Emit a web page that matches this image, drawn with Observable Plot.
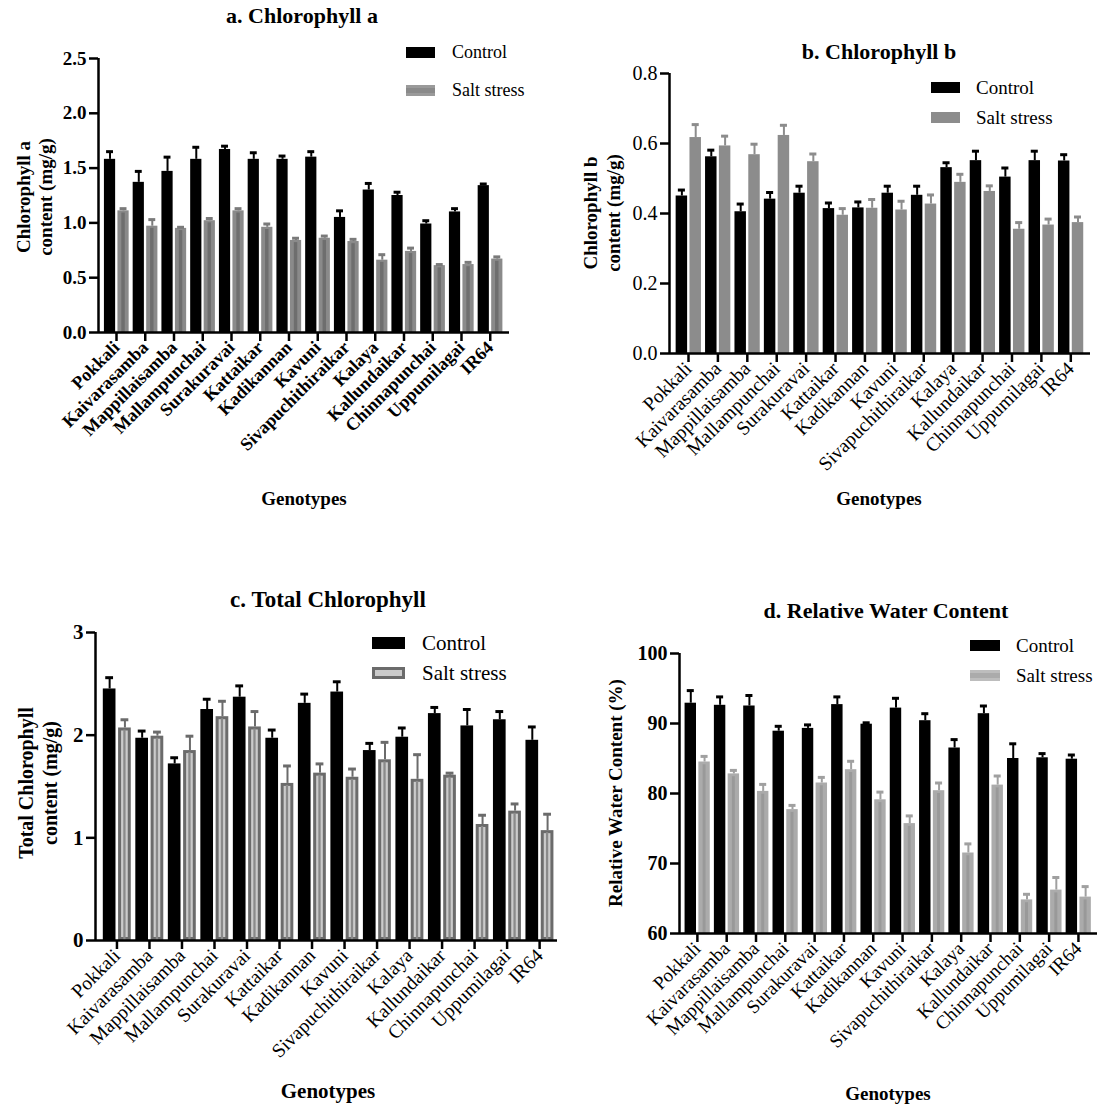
<!DOCTYPE html>
<html>
<head>
<meta charset="utf-8">
<script src="https://cdn.jsdelivr.net/npm/d3@7"></script>
<script src="https://cdn.jsdelivr.net/npm/@observablehq/plot@0.6"></script>
<style>
  html, body { margin: 0; padding: 0; background: #fff; }
  body { font-family: "Liberation Serif", "Times New Roman", serif; color: #000; }
  #root { position: relative; width: 1100px; height: 1108px; overflow: hidden; background: #fff; }
  .abs { position: absolute; white-space: nowrap; line-height: 1; }
  .ctr { transform: translate(-50%, -50%); }
  .lft { transform: translate(0, -50%); }
  .bold { font-weight: bold; }
  .ylab { transform: translate(-50%, -50%) rotate(-90deg); text-align: center; font-weight: bold; }
  .sw { position: absolute; box-sizing: border-box; }
  .panel { position: absolute; }
  .boldx g[aria-label="x-axis tick label"] { font-weight: bold; }
  .boldy g[aria-label="y-axis tick label"] { font-weight: bold; }
</style>
</head>
<body>
<div id="root"></div>
<script>
// ---------- data ----------
const genotypes = ["Pokkali","Kaivarasamba","Mappillaisamba","Mallampunchai","Surakuravai","Kattaikar","Kadikannan","Kavuni","Sivapuchithiraikar","Kalaya","Kallundaikar","Chinnapunchai","Uppumilagai","IR64"];
const seriesNames = ["Control", "Salt stress"];

const chlA_control   = [1.58,1.37,1.47,1.58,1.67,1.58,1.58,1.60,1.05,1.30,1.25,0.99,1.10,1.34];
const chlA_controlSE = [0.07,0.10,0.13,0.11,0.03,0.06,0.03,0.05,0.06,0.06,0.03,0.03,0.03,0.015];
const chlA_salt      = [1.11,0.97,0.95,1.02,1.11,0.96,0.84,0.86,0.83,0.66,0.74,0.61,0.62,0.67];
const chlA_saltSE    = [0.02,0.06,0.01,0.02,0.02,0.03,0.02,0.02,0.02,0.05,0.03,0.01,0.02,0.02];

const chlB_control   = [0.450,0.562,0.405,0.441,0.458,0.414,0.416,0.458,0.452,0.531,0.551,0.504,0.551,0.550];
const chlB_controlSE = [0.017,0.019,0.022,0.019,0.020,0.016,0.017,0.020,0.026,0.014,0.027,0.026,0.027,0.018];
const chlB_salt      = [0.617,0.593,0.568,0.623,0.548,0.395,0.415,0.410,0.427,0.489,0.463,0.355,0.367,0.374];
const chlB_saltSE    = [0.037,0.028,0.030,0.029,0.022,0.019,0.025,0.025,0.026,0.023,0.016,0.019,0.017,0.016];

const total_control   = [2.45,1.97,1.72,2.25,2.37,1.97,2.31,2.42,1.85,1.98,2.21,2.09,2.15,1.95];
const total_controlSE = [0.11,0.07,0.06,0.10,0.11,0.08,0.09,0.10,0.07,0.09,0.06,0.16,0.08,0.13];
const total_salt      = [2.07,1.99,1.85,2.18,2.08,1.53,1.63,1.59,1.76,1.57,1.61,1.13,1.26,1.07];
const total_saltSE    = [0.08,0.04,0.14,0.15,0.15,0.17,0.09,0.08,0.17,0.24,0.02,0.09,0.07,0.16];

const rwc_control   = [92.9,92.6,92.5,88.9,89.3,92.7,89.9,92.2,90.4,86.5,91.4,85.0,85.1,84.9];
const rwc_controlSE = [1.8,1.2,1.5,0.7,0.5,1.1,0.2,1.4,1.0,1.2,1.1,2.1,0.6,0.6];
const rwc_salt      = [84.5,82.8,80.3,77.7,81.5,83.4,79.1,75.7,80.4,71.5,81.2,64.8,66.2,65.2];
const rwc_saltSE    = [0.8,0.5,1.0,0.6,0.8,1.2,1.1,1.1,1.1,1.3,1.3,0.8,1.8,1.5];

const ticksA = [0, 0.5, 1.0, 1.5, 2.0, 2.5];
const ticksB = [0, 0.2, 0.4, 0.6, 0.8];
const ticksC = [0, 1, 2, 3];
const ticksD = [60, 70, 80, 90, 100];

// ---------- helpers ----------
const root = document.getElementById("root");

function addDiv(html, cls, x, y, size, extraStyle) {
  const d = document.createElement("div");
  d.className = "abs " + cls;
  d.style.left = x + "px";
  d.style.top = y + "px";
  d.style.fontSize = size + "px";
  if (extraStyle) Object.assign(d.style, extraStyle);
  d.innerHTML = html;
  root.appendChild(d);
  return d;
}
function addSwatch(x, yc, w, h, style) {
  const d = document.createElement("div");
  d.className = "sw";
  d.style.left = x + "px";
  d.style.top = (yc - h / 2) + "px";
  d.style.width = w + "px";
  d.style.height = h + "px";
  Object.assign(d.style, style);
  root.appendChild(d);
}

function makePanel(cfg) {
  const rows = genotypes.map((g, i) => ({
    i, g,
    c: cfg.control[i], cse: cfg.controlSE[i],
    s: cfg.salt[i], sse: cfg.saltSE[i]
  }));
  const y0 = cfg.yDomain[0];
  const cL = -0.42, cR = -0.03, sL = 0.05, sR = 0.44;
  const cM = (cL + cR) / 2, sM = (sL + sR) / 2, cap = 0.12;
  const marks = [
    Plot.rectY(rows, {x1: d => d.i + cL, x2: d => d.i + cR, y1: y0, y2: "c", fill: "#000"}),
    Plot.rectY(rows, {
      x1: d => d.i + sL, x2: d => d.i + sR, y1: y0, y2: "s",
      fill: cfg.saltFill, stroke: cfg.saltStroke || "none",
      strokeWidth: cfg.saltStrokeWidth || 0, inset: cfg.saltInset || 0
    })
  ];
  if (cfg.stripe) {
    marks.push(Plot.rectY(rows, {
      x1: d => d.i + sM - cfg.stripeW, x2: d => d.i + sM + cfg.stripeW,
      y1: y0, y2: d => d.s - cfg.stripeTop, fill: cfg.stripe
    }));
  }
  marks.push(
    Plot.ruleX(rows, {x: d => d.i + cM, y1: "c", y2: d => d.c + d.cse, stroke: "#000", strokeWidth: 2}),
    Plot.ruleY(rows, {y: d => d.c + d.cse, x1: d => d.i + cM - cap, x2: d => d.i + cM + cap, stroke: "#000", strokeWidth: 3}),
    Plot.ruleX(rows, {x: d => d.i + sM, y1: "s", y2: d => d.s + d.sse, stroke: cfg.saltErr, strokeWidth: 2}),
    Plot.ruleY(rows, {y: d => d.s + d.sse, x1: d => d.i + sM - cap, x2: d => d.i + sM + cap, stroke: cfg.saltErr, strokeWidth: 3}),
    Plot.ruleX([cfg.xDomain[0]], {y1: cfg.yDomain[0], y2: cfg.yDomain[1], stroke: "#000", strokeWidth: 2.5}),
    Plot.ruleY([cfg.yDomain[0]], {stroke: "#000", strokeWidth: 2.5}),
    Plot.axisY({ticks: cfg.yTicks, tickFormat: cfg.yFormat, tickSize: 9, tickPadding: 3, strokeWidth: 2.5, fontSize: cfg.yFont, label: null}),
    Plot.axisX({ticks: d3.range(genotypes.length), tickFormat: i => genotypes[i], tickRotate: -45, tickSize: 9, tickPadding: 3, strokeWidth: 2.5, fontSize: cfg.xFont, textAnchor: "end", label: null})
  );
  const svg = Plot.plot({
    width: cfg.width, height: cfg.height,
    marginLeft: cfg.margin[0], marginRight: cfg.margin[1], marginTop: cfg.margin[2], marginBottom: cfg.margin[3],
    x: {type: "linear", domain: cfg.xDomain, axis: null},
    y: {type: "linear", domain: cfg.yDomain, axis: null},
    style: {fontFamily: '"Liberation Serif", "Times New Roman", serif', color: "#000", background: "transparent", overflow: "visible"},
    marks
  });
  const wrap = document.createElement("div");
  wrap.className = "panel " + (cfg.cls || "");
  wrap.style.left = cfg.left + "px";
  wrap.style.top = cfg.top + "px";
  wrap.appendChild(svg);
  root.appendChild(wrap);
}

// ---------- panel a ----------
makePanel({
  left: 0, top: 0, width: 550, height: 540, margin: [98, 41, 58, 208],
  xDomain: [-0.626, 13.67], yDomain: [0, 2.5], yTicks: ticksA, yFormat: d3.format(".1f"),
  control: chlA_control, controlSE: chlA_controlSE, salt: chlA_salt, saltSE: chlA_saltSE,
  saltFill: "#8a8a8a", saltErr: "#7a7a7a", stripe: "#6e6e6e", stripeW: 0.06, stripeTop: 0.02,
  yFont: 19, xFont: 18, cls: "boldx boldy"
});
addDiv("a. Chlorophyll a", "ctr bold", 302, 16, 22);
addDiv("Chlorophyll a<br>content (mg/g)", "ylab", 35, 197, 19, {lineHeight: "22px"});
addDiv("Genotypes", "ctr bold", 304, 498, 19);
addSwatch(406, 52, 29, 11, {background: "#000"});
addSwatch(406, 90, 29, 11, {background: "#8a8a8a", borderTop: "3px solid #9a9a9a", borderBottom: "3px solid #9a9a9a"});
addDiv(seriesNames[0], "lft", 452, 52, 18);
addDiv(seriesNames[1], "lft", 452, 90, 18);

// ---------- panel b ----------
makePanel({
  left: 550, top: 0, width: 550, height: 540, margin: [119, 10, 73, 187],
  xDomain: [-0.646, 13.67], yDomain: [0, 0.8], yTicks: ticksB, yFormat: d3.format(".1f"),
  control: chlB_control, controlSE: chlB_controlSE, salt: chlB_salt, saltSE: chlB_saltSE,
  saltFill: "#8c8c8c", saltErr: "#8c8c8c",
  yFont: 20, xFont: 19.5, cls: ""
});
addDiv("b. Chlorophyll b", "ctr bold", 879, 52, 22);
addDiv("Chlorophyll b<br>content (mg/g)", "ylab", 602, 213, 19, {lineHeight: "23px"});
addDiv("Genotypes", "ctr bold", 879, 498, 19);
addSwatch(931, 87, 29, 11, {background: "#000"});
addSwatch(931, 117, 29, 11, {background: "#8c8c8c"});
addDiv(seriesNames[0], "lft", 976, 87, 19);
addDiv(seriesNames[1], "lft", 976, 117, 19);

// ---------- panel c ----------
makePanel({
  left: 0, top: 560, width: 560, height: 548, margin: [95, 3, 72, 168],
  xDomain: [-0.66, 13.55], yDomain: [0, 3], yTicks: ticksC, yFormat: d3.format("d"),
  control: total_control, controlSE: total_controlSE, salt: total_salt, saltSE: total_saltSE,
  saltFill: "#cbcbcb", saltStroke: "#6b6b6b", saltStrokeWidth: 3, saltInset: 1.5, saltErr: "#6b6b6b",
  stripe: "#8a8a8a", stripeW: 0.035, stripeTop: 0.02,
  yFont: 21, xFont: 19.5, cls: "boldy"
});
addDiv("c. Total Chlorophyll", "ctr bold", 328, 599, 23);
addDiv("Total Chlorophyll<br>content (mg/g)", "ylab", 38, 783, 20, {lineHeight: "24px"});
addDiv("Genotypes", "ctr bold", 328, 1091, 21);
addSwatch(372, 643, 33, 12, {background: "#000"});
addSwatch(372, 673, 33, 12, {background: "#cbcbcb", border: "3px solid #6b6b6b"});
addDiv(seriesNames[0], "lft", 422, 643, 21);
addDiv(seriesNames[1], "lft", 422, 673, 21);

// ---------- panel d ----------
makePanel({
  left: 550, top: 560, width: 550, height: 548, margin: [129, 3, 93, 175],
  xDomain: [-0.61, 13.65], yDomain: [60, 100], yTicks: ticksD, yFormat: d3.format("d"),
  control: rwc_control, controlSE: rwc_controlSE, salt: rwc_salt, saltSE: rwc_saltSE,
  saltFill: "#ababab", saltErr: "#a0a0a0", stripe: "#999999", stripeW: 0.05, stripeTop: 0.4,
  yFont: 20, xFont: 19, cls: "boldy"
});
addDiv("d. Relative Water Content", "ctr bold", 886, 611, 22);
addDiv("Relative Water Content (%)", "ylab", 615, 793, 19);
addDiv("Genotypes", "ctr bold", 888, 1093, 19);
addSwatch(970, 645, 30, 11, {background: "#000"});
addSwatch(970, 675, 30, 11, {background: "#ababab", borderTop: "3px solid #bdbdbd", borderBottom: "3px solid #bdbdbd"});
addDiv(seriesNames[0], "lft", 1016, 645, 19);
addDiv(seriesNames[1], "lft", 1016, 675, 19);
</script>
</body>
</html>
